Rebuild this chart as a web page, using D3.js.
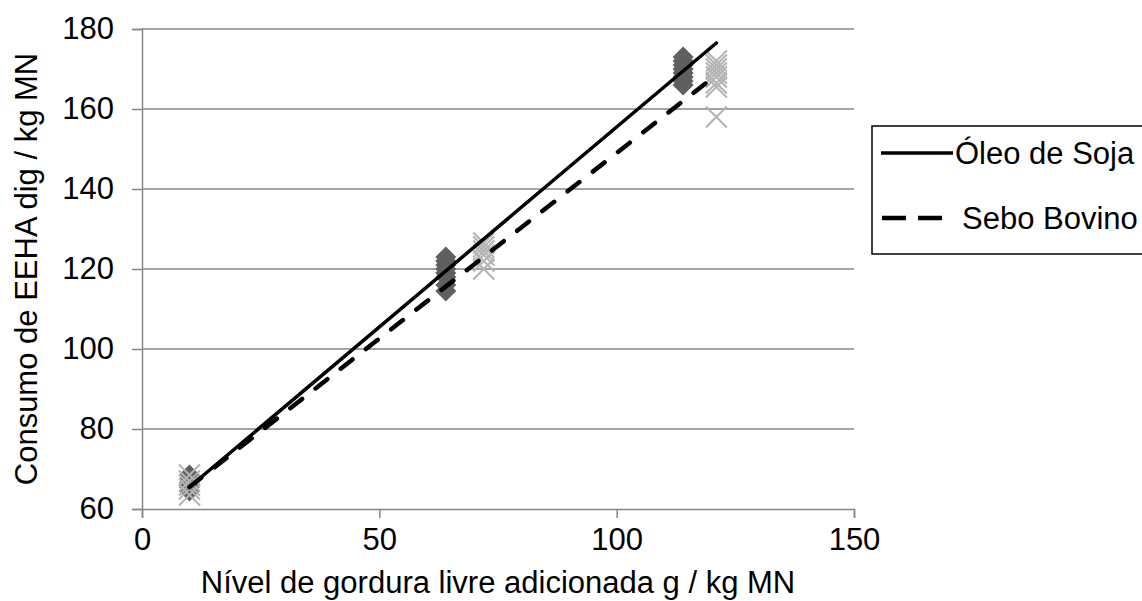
<!DOCTYPE html>
<html><head><meta charset="utf-8">
<script src="https://cdn.jsdelivr.net/npm/d3@7"></script>
<style>body{margin:0;background:#fff}svg{display:block}text{font-family:"Liberation Sans",Arial,sans-serif;fill:#000}</style>
</head><body><svg id="c" width="1142" height="601"></svg>
<script>
// Data
const sojaX = [10,10,10,10,10, 64,64,64,64,64,64,64,64, 114,114,114,114,114,114,114,114];
const sojaY = [64.5,65.5,66.5,67.5,68.5, 114.5,116,118,119,120,121,122,123, 166,167,168,169,170,171,172,173];
const seboX = [10,10,10,10,10, 72,72,72,72,72,72, 121,121,121,121,121,121,121,121];
const seboY = [63.5,65,66,67,68.5, 120,122,123.5,124.5,125.5,126.5, 158,165.5,166.5,168,169,170,171,172];
const trendX = [10, 121];
const sojaTrend = [65.5, 176.5];
const seboTrend = [65.5, 168.5];
const xTicks = [0, 50, 100, 150];
const yTicks = [60, 80, 100, 120, 140, 160, 180];
const seriesNames = ["Óleo de Soja", "Sebo Bovino"];
const xTitle = "Nível de gordura livre adicionada g / kg MN";
const yTitle = "Consumo de EEHA dig / kg MN";

const svg = d3.select("#c");
const x = d3.scaleLinear().domain([0,150]).range([142,854]);
const y = d3.scaleLinear().domain([60,180]).range([509,29]);
const FS = 31;
const grid = "#868686";

// gridlines
svg.append("g").selectAll("line").data(yTicks.slice(1)).join("line")
  .attr("x1", x(0)).attr("x2", x(150)).attr("y1", d=>y(d)).attr("y2", d=>y(d))
  .attr("stroke", grid).attr("stroke-width", 1.5);

// axes
const xa = svg.append("g").attr("transform", `translate(0,${y(60)})`)
  .call(d3.axisBottom(x).tickValues(xTicks).tickSize(9).tickPadding(10).tickFormat(d3.format("d")));
const ya = svg.append("g").attr("transform", `translate(${x(0)},0)`)
  .call(d3.axisLeft(y).tickValues(yTicks).tickSize(10).tickPadding(18).tickFormat(d3.format("d")));
[xa, ya].forEach(a => {
  a.select(".domain").attr("stroke", grid).attr("stroke-width", 1.5);
  a.selectAll(".tick line").attr("stroke", grid).attr("stroke-width", 1.5);
  a.selectAll(".tick text").attr("font-size", FS).attr("font-family", '"Liberation Sans",Arial,sans-serif').attr("fill", "#000");
});

// soja diamonds
const dsz = 10.5;
svg.append("g").selectAll("path").data(sojaX.map((v,i)=>[v, sojaY[i]])).join("path")
  .attr("d", d => { const cx = x(d[0]), cy = y(d[1]); return `M${cx},${cy-dsz}L${cx+dsz},${cy}L${cx},${cy+dsz}L${cx-dsz},${cy}Z`; })
  .attr("fill", "#5f5f5f");

// sebo crosses
const csz = 10.5;
svg.append("g").selectAll("path").data(seboX.map((v,i)=>[v, seboY[i]])).join("path")
  .attr("d", d => { const cx = x(d[0]), cy = y(d[1]); return `M${cx-csz},${cy-csz}L${cx+csz},${cy+csz}M${cx+csz},${cy-csz}L${cx-csz},${cy+csz}`; })
  .attr("stroke", "#b3b3b3").attr("stroke-width", 2).attr("fill", "none");

// trend lines
const line = d3.line().x(d=>x(d[0])).y(d=>y(d[1]));
svg.append("path").datum(trendX.map((v,i)=>[v, sojaTrend[i]])).attr("d", line)
  .attr("stroke", "#000").attr("stroke-width", 3.5).attr("fill", "none").attr("stroke-linecap", "round");
svg.append("path").datum(trendX.map((v,i)=>[v, seboTrend[i]])).attr("d", line)
  .attr("stroke", "#000").attr("stroke-width", 4.5).attr("fill", "none").attr("stroke-linecap", "round")
  .attr("stroke-dasharray", "15,17");

// titles
svg.append("text").attr("x", (x(0)+x(150))/2).attr("y", 593).attr("text-anchor", "middle")
  .attr("font-size", FS).text(xTitle);
svg.append("text").attr("transform", `translate(37,${(y(60)+y(180))/2}) rotate(-90)`).attr("text-anchor", "middle")
  .attr("font-size", FS).text(yTitle);

// legend
const lg = svg.append("g");
lg.append("rect").attr("x", 872).attr("y", 126).attr("width", 290).attr("height", 128)
  .attr("fill", "#fff").attr("stroke", "#000").attr("stroke-width", 1.5);
const ly = [153, 218];
lg.append("line").attr("x1", 881).attr("x2", 953).attr("y1", ly[0]).attr("y2", ly[0]).attr("stroke", "#000").attr("stroke-width", 3.5);
lg.append("line").attr("x1", 882).attr("x2", 953).attr("y1", ly[1]).attr("y2", ly[1]).attr("stroke", "#000").attr("stroke-width", 4.5)
  .attr("stroke-dasharray", "24,12");
lg.selectAll("text").data(seriesNames).join("text")
  .attr("x", (d,i)=> i===0 ? 955 : 962).attr("y", (d,i)=>ly[i]+11).attr("font-size", FS).text(d=>d);
</script></body></html>
